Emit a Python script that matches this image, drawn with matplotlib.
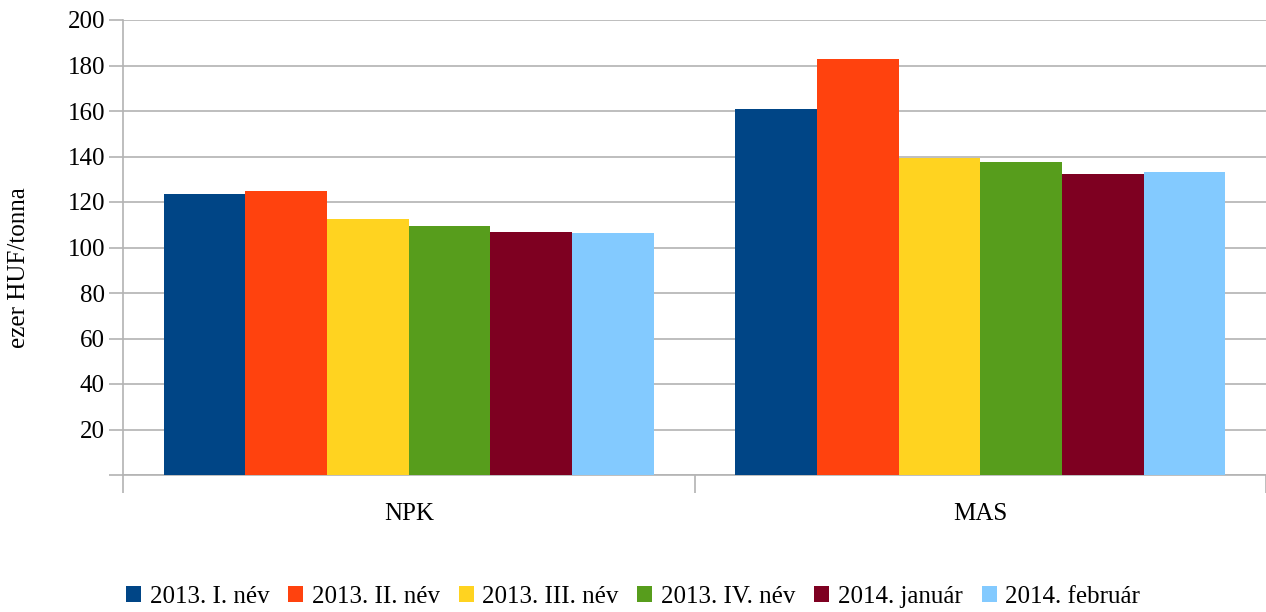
import matplotlib.pyplot as plt
import numpy as np

plt.rcParams['font.family'] = ['Liberation Serif', 'DejaVu Serif']

categories = ['NPK', 'MAS']
series = ['2013. I. név', '2013. II. név', '2013. III. név', '2013. IV. név',
          '2014. január', '2014. február']
values = [
    [123.5, 160.9],
    [124.8, 182.9],
    [112.5, 139.3],
    [109.5, 137.6],
    [106.8, 132.3],
    [106.4, 133.2],
]
colors = ['#004586', '#ff420e', '#ffd320', '#579d1c', '#7e0021', '#83caff']

fig = plt.figure(figsize=(12.66, 6.12), dpi=100)
ax = fig.add_axes([123 / 1266, 1 - 475 / 612, 1 - 123 / 1266, 455 / 612])

x = np.arange(len(categories))
w = 0.143
n = len(series)
for i, (name, vals, c) in enumerate(zip(series, values, colors)):
    ax.bar(x + (i - (n - 1) / 2) * w, vals, w, color=c, label=name, zorder=3)

fs = 18
ax.set_xlim(-0.5, 1.5)
ax.set_ylim(0, 200)
ax.set_yticks(range(0, 201, 20))
ax.set_yticklabels([''] + [str(v) for v in range(20, 201, 20)])
ax.yaxis.grid(True, color='#b3b3b3', linewidth=1.2, zorder=0)

ax.set_xticks([-0.5, 0.5, 1.5])
ax.set_xticklabels([])
ax.set_xticks(x, minor=True)
ax.set_xticklabels(categories, minor=True)
ax.tick_params(axis='x', which='minor', length=0, pad=20, labelsize=fs)
ax.tick_params(axis='x', which='major', length=13, color='#b3b3b3', width=1.2)
ax.tick_params(axis='y', length=10, color='#b3b3b3', width=1.2, labelsize=fs, pad=3)

for side in ['top', 'right']:
    ax.spines[side].set_visible(False)
for side in ['left', 'bottom']:
    ax.spines[side].set_color('#b3b3b3')
    ax.spines[side].set_linewidth(1.2)

ax.set_ylabel('ezer HUF/tonna', fontsize=fs)
ax.yaxis.set_label_coords(-0.0814, 0.455)

fig.legend(loc='lower center', bbox_to_anchor=(0.5, -0.03), ncol=6, frameon=False,
           fontsize=fs, handlelength=0.6, handleheight=0.6, handletextpad=0.35,
           columnspacing=0.75)

fig.savefig('out.png', dpi=100)
